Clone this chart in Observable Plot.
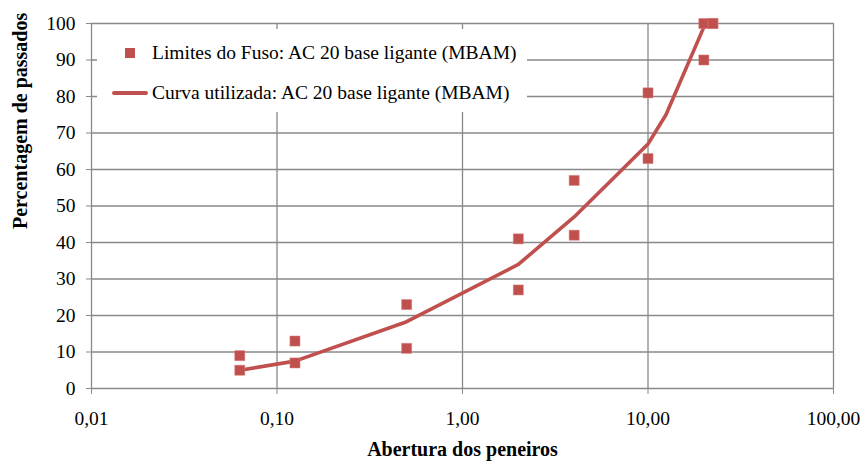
<!DOCTYPE html>
<html>
<head>
<meta charset="utf-8">
<script src="https://cdn.jsdelivr.net/npm/d3@7"></script>
<script src="https://cdn.jsdelivr.net/npm/@observablehq/plot@0.6"></script>
</head>
<body style="margin:0;padding:0;background:#fff;">
<div id="wrap"></div>
<script>
// Sieve openings (mm) and the grading envelope limits (% passing)
const sieves = [0.063, 0.125, 0.5, 2, 4, 10, 20, 22.4];
const limitLower = [5, 7, 11, 27, 42, 63, 90, 100];
const limitUpper = [9, 13, 23, 41, 57, 81, 100, 100];

// Gradation curve used
const curveSieves = [0.063, 0.125, 0.5, 2, 4, 10, 12.5, 20, 22.4];
const curvePassing = [5, 7.5, 18.3, 34, 47, 67, 75, 99, 100];

const xTicks = [0.01, 0.1, 1, 10, 100];
const yTicks = [0, 10, 20, 30, 40, 50, 60, 70, 80, 90, 100];

const seriesLimits = "Limites do Fuso: AC 20 base ligante (MBAM)";
const seriesCurve = "Curva utilizada: AC 20 base ligante (MBAM)";
const xTitle = "Abertura dos peneiros";
const yTitle = "Percentagem de passados";

const red = "#C0504D";
const grid = "#898989";
const FONT = '"Liberation Serif"';

const limitPoints = [
  ...sieves.map((s, i) => ({x: s, y: limitLower[i]})),
  ...sieves.map((s, i) => ({x: s, y: limitUpper[i]}))
];
const curve = curveSieves.map((s, i) => ({x: s, y: curvePassing[i]}));

const fmt = d => d3.format(".2f")(d).replace(".", ",");

const chart = Plot.plot({
  width: 867,
  height: 466,
  marginLeft: 91,
  marginRight: 34,
  marginTop: 23,
  marginBottom: 78,
  style: {fontFamily: FONT, fontSize: "19.5px", color: "#000", background: "#fff"},
  x: {type: "log", domain: [0.01, 100]},
  y: {domain: [0, 100]},
  marks: [
    Plot.ruleY(yTicks, {stroke: grid, strokeWidth: 1.3}),
    Plot.ruleX(xTicks, {stroke: grid, strokeWidth: 1.3}),
    Plot.axisY({ticks: yTicks, tickSize: 5, tickPadding: 11, stroke: grid, fill: "#000", fontSize: 19.5, label: null, tickFormat: d => String(d)}),
    Plot.axisX({ticks: xTicks, tickSize: 6, tickPadding: 17, stroke: grid, fill: "#000", fontSize: 19.5, label: null, tickFormat: fmt}),
    Plot.line(curve, {x: "x", y: "y", stroke: red, strokeWidth: 3.6}),
    Plot.dot(limitPoints, {x: "x", y: "y", symbol: "square", r: 5.7, fill: red, stroke: "#d98583", strokeWidth: 0.5}),
    Plot.text([xTitle], {frameAnchor: "bottom", dy: 67, text: d => d, fontWeight: "bold", fontSize: 20, fill: "#000"}),
    Plot.text([yTitle], {frameAnchor: "left", dx: -71, dy: 23, rotate: -90, text: d => d, fontWeight: "bold", fontSize: 20, fill: "#000"})
  ]
});

const wrap = document.getElementById("wrap");
wrap.style.position = "relative";
wrap.style.width = "867px";
wrap.style.height = "466px";
wrap.appendChild(chart);

function el(tag, css, text) {
  const e = document.createElement(tag);
  Object.assign(e.style, css);
  if (text) e.textContent = text;
  return e;
}
// Legend (inside the plot area, as in the reference)
const legend = el("div", {position: "absolute", left: "97px", top: "29px", width: "430px", height: "83px",
  background: "#fff", fontFamily: FONT, fontSize: "19.5px", color: "#000"});
const row1 = el("div", {position: "absolute", left: "0px", top: "12px", height: "24px", lineHeight: "24px", whiteSpace: "nowrap"});
row1.appendChild(el("span", {position: "absolute", left: "28px", top: "7px", width: "10px", height: "10px", background: red}));
row1.appendChild(el("span", {position: "absolute", left: "55px", top: "0px", fontFamily: FONT}, seriesLimits));
const row2 = el("div", {position: "absolute", left: "0px", top: "52px", height: "24px", lineHeight: "24px", whiteSpace: "nowrap"});
row2.appendChild(el("span", {position: "absolute", left: "15px", top: "10px", width: "36px", height: "4px", background: red, borderRadius: "2px"}));
row2.appendChild(el("span", {position: "absolute", left: "55px", top: "0px", fontFamily: FONT}, seriesCurve));
legend.appendChild(row1);
legend.appendChild(row2);
wrap.appendChild(legend);
</script>
</body>
</html>
